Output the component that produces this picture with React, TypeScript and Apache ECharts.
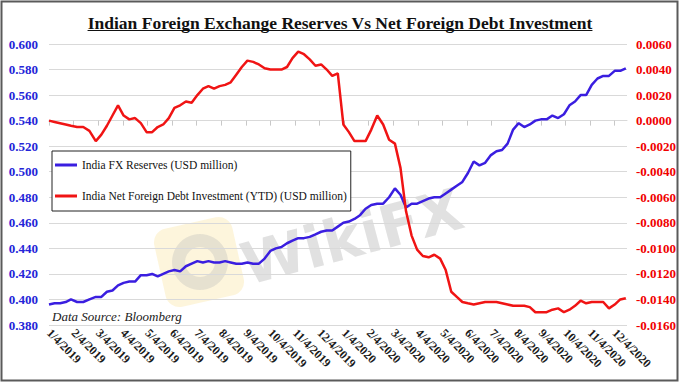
import React, { useEffect, useRef } from "react";
import * as echarts from "echarts";

const TITLE = "Indian Foreign Exchange Reserves Vs Net Foreign Debt Investment";
const SOURCE = "Data Source: Bloomberg";
const NAME_FX = "India FX Reserves (USD million)";
const NAME_DEBT = "India Net Foreign Debt Investment (YTD) (USD million)";

// weekly observations, first one on 4 Jan 2019
const START_DATE = "2019-01-04";

const monthLabels = [
  "1/4/2019", "2/4/2019", "3/4/2019", "4/4/2019", "5/4/2019", "6/4/2019",
  "7/4/2019", "8/4/2019", "9/4/2019", "10/4/2019", "11/4/2019", "12/4/2019",
  "1/4/2020", "2/4/2020", "3/4/2020", "4/4/2020", "5/4/2020", "6/4/2020",
  "7/4/2020", "8/4/2020", "9/4/2020", "10/4/2020", "11/4/2020", "12/4/2020",
];

const fxReserves = [
  0.396, 0.397, 0.397, 0.398, 0.400, 0.398, 0.398, 0.400, 0.402, 0.402,
  0.406, 0.407, 0.411, 0.413, 0.414, 0.414, 0.419, 0.419, 0.420, 0.418,
  0.420, 0.422, 0.423, 0.422, 0.426, 0.428, 0.430, 0.429, 0.430, 0.429,
  0.429, 0.430, 0.429, 0.428, 0.428, 0.429, 0.428, 0.428, 0.432, 0.438,
  0.440, 0.441, 0.444, 0.446, 0.448, 0.448, 0.449, 0.451, 0.453, 0.454,
  0.454, 0.457, 0.460, 0.461, 0.463, 0.466, 0.471, 0.474, 0.475, 0.475,
  0.480, 0.487, 0.482, 0.472, 0.475, 0.475, 0.477, 0.479, 0.480, 0.480,
  0.483, 0.486, 0.489, 0.492, 0.499, 0.508, 0.505, 0.507, 0.513, 0.516,
  0.517, 0.522, 0.533, 0.538, 0.535, 0.537, 0.540, 0.541, 0.541, 0.544,
  0.542, 0.545, 0.552, 0.555, 0.560, 0.560, 0.568, 0.573, 0.575, 0.575,
  0.579, 0.579, 0.581,
];

const netDebt = [
  0.0000, -0.0001, -0.0002, -0.0003, -0.0004, -0.0005, -0.0005, -0.0008, -0.0016, -0.0011,
  -0.0004, 0.0004, 0.0012, 0.0004, 0.0001, 0.0002, -0.0002, -0.0009, -0.0009, -0.0005,
  -0.0003, 0.0002, 0.0010, 0.0012, 0.0015, 0.0014, 0.0020, 0.0025, 0.0027, 0.0025,
  0.0027, 0.0028, 0.0030, 0.0036, 0.0042, 0.0047, 0.0046, 0.0044, 0.0041, 0.0040,
  0.0040, 0.0040, 0.0042, 0.0049, 0.0054, 0.0052, 0.0048, 0.0043, 0.0044, 0.0040,
  0.0035, 0.0037, -0.0003, -0.0009, -0.0016, -0.0016, -0.0016, -0.0007, 0.0004, -0.0003,
  -0.0015, -0.0018, -0.0037, -0.0071, -0.0090, -0.0101, -0.0106, -0.0107, -0.0105, -0.0108,
  -0.0117, -0.0134, -0.0138, -0.0142, -0.0143, -0.0144, -0.0143, -0.0142, -0.0142, -0.0142,
  -0.0143, -0.0144, -0.0145, -0.0145, -0.0145, -0.0146, -0.0150, -0.0150, -0.0150, -0.0148,
  -0.0147, -0.0150, -0.0148, -0.0145, -0.0141, -0.0143, -0.0142, -0.0142, -0.0142, -0.0147,
  -0.0144, -0.0140, -0.0139,
];

const FONT = "'Liberation Serif', 'Times New Roman', serif";
const BLUE_LINE = "#3a1ee0";
const RED_LINE = "#f01414";
const BLUE_TEXT = "#2424d8";
const RED_TEXT = "#f00000";
const TITLE_SIZE = 17.5;

// position of a date on the month axis (0 = 1/4/2019, 1 = 2/4/2019, ...)
function monthPos(t: number): number {
  const d = new Date(t);
  const y = d.getUTCFullYear();
  const m = d.getUTCMonth();
  const day = d.getUTCDate();
  const dim = new Date(Date.UTC(y, m + 1, 0)).getUTCDate();
  return (y - 2019) * 12 + m + (day - 4) / dim;
}

function weeklyPositions(n: number): number[] {
  const t0 = Date.parse(START_DATE + "T00:00:00Z");
  const out: number[] = [];
  for (let i = 0; i < n; i++) out.push(monthPos(t0 + i * 7 * 86400000));
  return out;
}

export default function App() {
  const ref = useRef<HTMLDivElement>(null);

  useEffect(() => {
    if (!ref.current) return;
    const chart = echarts.init(ref.current, undefined, { renderer: "svg" });
    const xs = weeklyPositions(fxReserves.length);

    const canvas = document.createElement("canvas");
    const ctx = canvas.getContext("2d")!;
    ctx.font = `bold ${TITLE_SIZE}px ${FONT}`;
    const titleW = ctx.measureText(TITLE).width;
    const titleX0 = 340 - titleW / 2;

    chart.setOption({
      animation: false,
      backgroundColor: "#ffffff",
      title: {
        text: TITLE,
        left: "center",
        top: 9,
        textStyle: { fontFamily: FONT, fontSize: TITLE_SIZE, fontWeight: "bold", color: "#111" },
      },
      grid: { left: 49, right: 53, top: 44, bottom: 59, containLabel: false, outerBoundsMode: "none" },
      legend: {
        orient: "vertical",
        left: 52,
        top: 151,
        padding: [7, 4, 8, 3],
        itemGap: 17,
        itemWidth: 22,
        itemHeight: 3,
        icon: "rect",
        borderColor: "#222",
        borderWidth: 1,
        backgroundColor: "#ffffff",
        textStyle: { fontFamily: FONT, fontSize: 11.5, lineHeight: 14, color: "#111" },
        data: [NAME_FX, NAME_DEBT],
      },
      xAxis: {
        type: "value",
        min: 0,
        max: 23.5,
        interval: 1,
        splitLine: { show: false },
        axisLine: { show: true, lineStyle: { color: "#d9d9d9" } },
        axisTick: {
          show: true,
          length: 5,
          lineStyle: { color: "#c8c8c8" },
          customValues: monthLabels.map((_, i) => i),
        },
        axisLabel: {
          rotate: -45,
          margin: 6,
          fontFamily: FONT,
          fontSize: 12,
          fontWeight: "bold",
          color: "#1a1a1a",
          customValues: monthLabels.map((_, i) => i),
          formatter: (v: number) => monthLabels[Math.round(v)] ?? "",
        },
      },
      yAxis: [
        {
          type: "value",
          min: 0.38,
          max: 0.6,
          interval: 0.02,
          axisLine: { show: false },
          axisTick: { show: false },
          splitLine: { show: true, lineStyle: { color: "#d9d9d9" } },
          axisLabel: {
            margin: 11,
            fontFamily: FONT,
            fontSize: 13,
            fontWeight: "bold",
            color: BLUE_TEXT,
            formatter: (v: number) => v.toFixed(3),
          },
        },
        {
          type: "value",
          min: -0.016,
          max: 0.006,
          interval: 0.002,
          axisLine: { show: false },
          axisTick: { show: false },
          splitLine: { show: false },
          axisLabel: {
            margin: 9,
            fontFamily: FONT,
            fontSize: 13,
            fontWeight: "bold",
            color: RED_TEXT,
            formatter: (v: number) => v.toFixed(4),
          },
        },
      ],
      graphic: [
        {
          type: "rect",
          silent: true,
          z: -1,
          shape: { x: 1.5, y: 1.5, width: 676, height: 379 },
          style: { fill: "none", stroke: "#5a5a5a", lineWidth: 2 },
        },
        {
          type: "line",
          silent: true,
          shape: { x1: titleX0, y1: 30.5, x2: titleX0 + titleW, y2: 30.5 },
          style: { stroke: "#111", lineWidth: 1.2 },
        },
        {
          type: "group",
          z: -1,
          silent: true,
          children: [
            {
              type: "rect",
              x: 199,
              y: 262,
              rotation: 0.22,
              shape: { x: -40, y: -40, width: 80, height: 80, r: 14 },
              style: { fill: "rgba(250,225,150,0.33)" },
            },
            {
              type: "ring",
              shape: { cx: 200, cy: 262, r: 28, r0: 15 },
              style: { fill: "rgba(185,185,185,0.33)" },
            },
            {
              type: "text",
              x: 250,
              y: 294,
              rotation: 0.26,
              style: {
                text: "WikiFX",
                fontFamily: "'DejaVu Sans', sans-serif",
                fontSize: 58,
                fontWeight: "bold",
                fill: "rgba(180,180,180,0.4)",
                textVerticalAlign: "bottom",
              },
            },
          ],
        },
        {
          type: "text",
          left: 52,
          top: 310,
          silent: true,
          style: {
            text: SOURCE,
            fontFamily: FONT,
            fontSize: 13,
            fontStyle: "italic",
            fill: "#222",
          },
        },
      ],
      series: [
        {
          name: NAME_FX,
          type: "line",
          yAxisIndex: 0,
          showSymbol: false,
          symbol: "none",
          color: BLUE_LINE,
          lineStyle: { width: 2.5, color: BLUE_LINE },
          data: fxReserves.map((v, i) => [xs[i], v]),
          z: 3,
        },
        {
          name: NAME_DEBT,
          type: "line",
          yAxisIndex: 1,
          showSymbol: false,
          symbol: "none",
          color: RED_LINE,
          lineStyle: { width: 2.5, color: RED_LINE },
          data: netDebt.map((v, i) => [xs[i], v]),
          z: 3,
        },
      ],
    });
    return () => chart.dispose();
  }, []);

  return (
    <div
      ref={ref}
      style={{ position: "fixed", left: 0, top: 0, width: 680, height: 384 }}
    />
  );
}
